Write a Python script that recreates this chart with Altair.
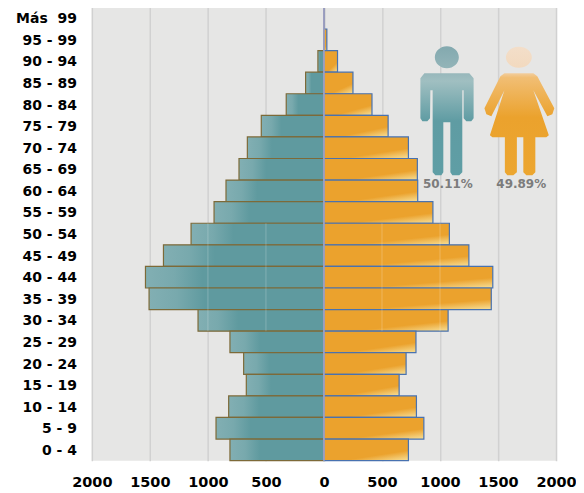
import altair as alt
import pandas as pd

ages = ["Más \u00a099", "95 - 99", "90 - 94", "85 - 89", "80 - 84", "75 - 79", "70 - 74",
        "65 - 69", "60 - 64", "55 - 59", "50 - 54", "45 - 49", "40 - 44", "35 - 39",
        "30 - 34", "25 - 29", "20 - 24", "15 - 19", "10 - 14", "5 - 9", "0 - 4"]
hombres = [1, 3, 52, 158, 325, 540, 660, 732, 844, 947, 1145, 1383, 1538, 1507,
           1085, 810, 692, 669, 821, 930, 810]
mujeres = [1, 25, 117, 250, 414, 553, 728, 805, 808, 939, 1081, 1249, 1455, 1442,
           1070, 793, 708, 648, 797, 861, 728]
ticks = [-2000, -1500, -1000, -500, 0, 500, 1000, 1500, 2000]

TEAL = "#5F9A9F"
ORANGE = "#EBA22D"


def path(cx, cy, r, shapes):
    out = []
    for pts in shapes:
        s = "M" + " L".join(f"{(x-cx)/r:.3f},{(y-cy)/r:.3f}" for x, y in pts) + " Z"
        out.append(s)
    return " ".join(out)


def ellipse(cx, cy, rx, ry, ox, oy, r):
    return (f"M{(cx-rx-ox)/r:.3f},{(cy-oy)/r:.3f} "
            f"A{rx/r:.3f},{ry/r:.3f} 0 1 1 {(cx+rx-ox)/r:.3f},{(cy-oy)/r:.3f} "
            f"A{rx/r:.3f},{ry/r:.3f} 0 1 1 {(cx-rx-ox)/r:.3f},{(cy-oy)/r:.3f} Z")


R = 64
MX, FX, IY = 447.5, 520, 111
male_shape = ellipse(447.5, 57, 12, 11, MX, IY, R) + " " + path(MX, IY, R, [[
    (425, 73), (470, 73), (474.3, 78), (474.3, 118), (472, 121), (467, 121), (464.3, 118), (464.3, 90),
    (463, 90), (463, 172), (460, 175), (453, 175), (451, 172), (451, 122), (444, 122),
    (444, 172), (442, 175), (436, 175), (433.3, 172), (433.3, 90), (431, 90), (430.7, 118),
    (428, 121), (423, 121), (421, 118), (421, 78)]])
female_shape = ellipse(519.5, 57, 13, 10.5, FX, IY, R) + " " + path(FX, IY, R, [[
    (505, 73), (534, 73), (538, 76), (555, 108), (553, 114), (548, 116), (534, 90),
    (549.5, 135), (547, 137), (536, 137), (536, 172), (533, 175), (527, 175), (524, 172),
    (524, 137), (517.5, 137), (517.5, 172), (514, 175), (508, 175), (505.5, 172),
    (505.5, 137), (493, 137), (490.5, 135), (505, 90), (492, 116), (487, 114), (485, 108),
    (501, 76)]])

x_scale = alt.Scale(domain=[-2000, 2000], nice=False, zero=False)
y_scale = alt.Scale(domain=ages, paddingInner=0, paddingOuter=0)

x_axis = alt.Axis(values=ticks, labelExpr="abs(datum.value)", title=None, grid=True,
                  gridColor="#D1D1D1", gridWidth=1.5, domain=False, ticks=False,
                  labelFont="DejaVu Sans", labelFontWeight="bold", labelFontSize=14.5,
                  labelColor="#000000", labelPadding=15, labelFlush=False, labelOverlap=False)
y_axis = alt.Axis(title=None, domain=False, ticks=False, grid=False, labels=False)

df_m = pd.DataFrame({"edad": ages, "v": [-v for v in hombres]})
df_f = pd.DataFrame({"edad": ages, "v": mujeres})

grad_m = alt.LinearGradient(gradient="linear", x1=0, x2=1, y1=0, y2=0, stops=[
    alt.GradientStop(color="#82AFB3", offset=0),
    alt.GradientStop(color="#78A9AD", offset=0.16),
    alt.GradientStop(color=TEAL, offset=0.32),
    alt.GradientStop(color=TEAL, offset=1)])
grad_f = alt.LinearGradient(gradient="linear", x1=0.55, x2=0.95, y1=0.35, y2=1.0, stops=[
    alt.GradientStop(color=ORANGE, offset=0),
    alt.GradientStop(color=ORANGE, offset=0.5),
    alt.GradientStop(color="#F6DC92", offset=1)])

bars_m = alt.Chart(df_m).mark_bar(color=grad_m, stroke="#7D6A38", strokeWidth=1.2).encode(
    x=alt.X("v:Q", scale=x_scale, axis=x_axis, stack=None),
    y=alt.Y("edad:N", scale=y_scale, axis=y_axis, sort=ages))
bars_f = alt.Chart(df_f).mark_bar(color=grad_f, stroke="#4872B0", strokeWidth=1.2).encode(
    x=alt.X("v:Q", scale=x_scale, axis=x_axis, stack=None),
    y=alt.Y("edad:N", scale=y_scale, axis=y_axis, sort=ages))

age_labels = alt.Chart(df_m).mark_text(
    font="DejaVu Sans", fontWeight="bold", fontSize=14, color="#000000",
    align="right", baseline="middle", dy=1
).encode(x=alt.value(-15), y=alt.Y("edad:N", scale=y_scale, axis=y_axis, sort=ages), text="edad:N")

sheen_rows = ["50 - 54", "45 - 49", "40 - 44", "35 - 39", "30 - 34"]
sheen_at = [-1000, -500, 500, 1000]
sheen = pd.DataFrame([{"edad": e, "a": t - 6, "b": t + 6} for e in sheen_rows for t in sheen_at])
sheen_marks = alt.Chart(sheen).mark_bar(color="#FFFFFF", opacity=0.16).encode(
    x=alt.X("a:Q", scale=x_scale, axis=x_axis, stack=None), x2="b:Q",
    y=alt.Y("edad:N", scale=y_scale, axis=y_axis, sort=ages))

zero = alt.Chart(pd.DataFrame({"x": [0]})).mark_rule(color="#ABA9CB", strokeWidth=1.5).encode(
    x=alt.X("x:Q", scale=x_scale, axis=x_axis))

icon_grad_m = alt.LinearGradient(gradient="linear", x1=0, x2=0, y1=0, y2=1, stops=[
    alt.GradientStop(color="#83A9AF", offset=0),
    alt.GradientStop(color="#96B6BA", offset=0.2),
    alt.GradientStop(color="#A0BFC1", offset=0.27),
    alt.GradientStop(color="#5F9CA3", offset=0.58),
    alt.GradientStop(color="#5F9EA5", offset=1)])
icon_grad_f = alt.LinearGradient(gradient="linear", x1=0, x2=0, y1=0, y2=1, stops=[
    alt.GradientStop(color="#F3DEC9", offset=0),
    alt.GradientStop(color="#F2D9BE", offset=0.18),
    alt.GradientStop(color="#F1BE74", offset=0.24),
    alt.GradientStop(color="#EBA22D", offset=0.55),
    alt.GradientStop(color="#ECA630", offset=1)])

icon_m = alt.Chart(pd.DataFrame({"x": [1059]})).mark_point(
    shape=male_shape, size=(2 * R) ** 2, filled=True, fill=icon_grad_m, opacity=1, strokeWidth=0
).encode(x=alt.X("x:Q", scale=x_scale, axis=x_axis), y=alt.value(IY - 7))
icon_f = alt.Chart(pd.DataFrame({"x": [1684]})).mark_point(
    shape=female_shape, size=(2 * R) ** 2, filled=True, fill=icon_grad_f, opacity=1, strokeWidth=0
).encode(x=alt.X("x:Q", scale=x_scale, axis=x_axis), y=alt.value(IY - 7))

pct = pd.DataFrame({"x": [1068, 1700], "t": ["50.11%", "49.89%"]})
pct_text = alt.Chart(pct).mark_text(font="DejaVu Sans", fontSize=12, color="#6A6A6A",
                                    fontWeight="bold", opacity=0.85).encode(
    x=alt.X("x:Q", scale=x_scale, axis=x_axis), y=alt.value(177), text="t:N")

chart = alt.layer(bars_m, bars_f, sheen_marks, zero, icon_m, icon_f, pct_text, age_labels).properties(
    width=465, height=454,
    autosize=alt.AutoSizeParams(type="none"),
    padding={"left": 84, "top": -1, "right": 20, "bottom": 30},
    background="#FFFFFF",
).configure_view(fill="#E6E6E5", stroke=None)

chart.save("out.html", embed_options={"renderer": "svg", "actions": False})
